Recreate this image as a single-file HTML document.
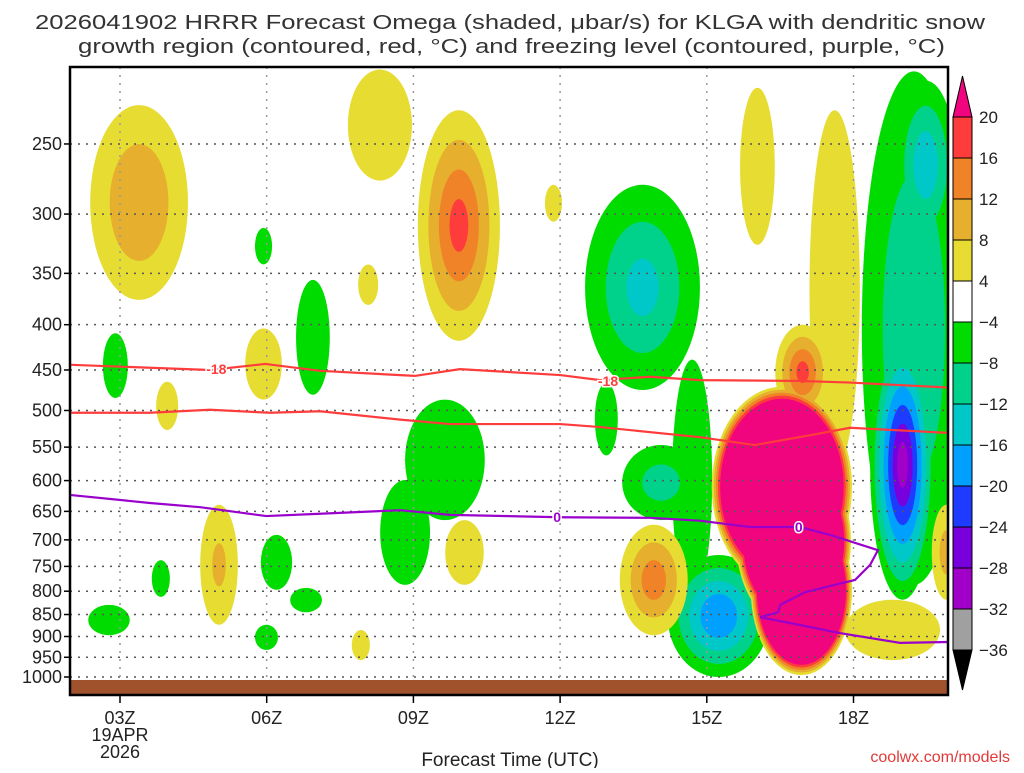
<!DOCTYPE html>
<html><head><meta charset="utf-8"><style>
body{margin:0;background:#fff;width:1024px;height:768px;overflow:hidden;font-family:"Liberation Sans",sans-serif}
svg text{font-family:"Liberation Sans",sans-serif}
</style></head><body>
<svg id="chart" width="1024" height="768" xmlns="http://www.w3.org/2000/svg">
<text x="35" y="29" textLength="950" lengthAdjust="spacingAndGlyphs" font-size="20" fill="#333">2026041902 HRRR Forecast Omega (shaded, μbar/s) for KLGA with dendritic snow</text>
<text x="78" y="53" textLength="867" lengthAdjust="spacingAndGlyphs" font-size="20" fill="#333">growth region (contoured, red, °C) and freezing level (contoured, purple, °C)</text>
<defs><clipPath id="pc"><rect x="70" y="67" width="878" height="628"/></clipPath></defs>
<g id="fills" clip-path="url(#pc)"></g>
<g id="grid"></g>
<rect x="70" y="680" width="878" height="15" fill="#A0522D"/>
<g id="lines" clip-path="url(#pc)"></g>
<rect x="70" y="67" width="878" height="628" fill="none" stroke="#000" stroke-width="2.5"/>
<g id="axes"></g>
<g id="cbar"></g>
<text x="510" y="766" text-anchor="middle" font-size="19" fill="#222">Forecast Time (UTC)</text>
<text x="1010" y="762" text-anchor="end" font-size="16" fill="#e03a3a">coolwx.com/models</text>
</svg>
<script>
// ---- data ----
const pressureTicks=[250,300,350,400,450,500,550,600,650,700,750,800,850,900,950,1000];
const hourTicks=[3,6,9,12,15,18];
const hourTickLabels=["03Z","06Z","09Z","12Z","15Z","18Z"];
const blobH0=[2.39,7.66,9.09,5.76,6.6,7.87,2.65,5.56,3.74,8.83,8.32,12.71,12.51,14.29,13.27,14.2,15.1,15.9,16.4,17.1,18.17,18.34,18.85,4.64,5.88,6.48,5.76,3.65,2.35,9.65,7.74,11.69,13.22,17.83,15.68,19.6,15.6];
const blobH1=[4.39,8.97,10.77,6.11,7.29,8.28,3.16,6.31,4.19,10.46,9.34,13.18,14.86,15.11,14.86,16.29,17.97,17.97,17.52,18.13,20.3,19.67,20.1,5.41,6.52,7.13,6.23,4.02,3.2,10.44,8.11,12.04,14.61,19.77,16.39,20.2,17.95];
const blobP0=[226,206,229,311,356,342,409,404,464,486,599,465,278,438,547,728,470,640,400,229,207,406,212,639,691,793,873,738,829,665,885,278,673,818,216,639,560];
const blobP1=[375,275,417,342,480,380,484,486,526,665,787,562,474,818,665,1000,790,995,512,583,787,818,329,873,797,845,932,812,897,787,957,306,897,957,325,818,880];
const blobPeak=[10,6,18,-6,-6,6,-6,6,6,-7,-7,-6,-14,-6,-11,-19,24,24,18,6,-12,-30,-16,9,-6,-6,-6,-6,-6,6,6,6,14,6,6,10,24];
const blobSharp=[0.6,1,0.9,1,1,1,1,1,1,1,1,1,0.9,1,0.9,0.8,0.15,0.15,0.9,1,0.8,0.9,0.9,0.8,1,1,1,1,1,1,1,1,0.8,1,1,0.8,0.15];
const posLevels=[4,8,12,16,20];
const posColors=["#E6DC32","#E6AF2D","#F08228","#FF3C3C","#F0057F"];
const negLevels=[-4,-8,-12,-16,-20,-24,-28,-32];
const negColors=["#00DC00","#00D28C","#00C8C8","#00A0FF","#1E3CFF","#7800DC","#A000C8","#A0A0A0"];
const cbarLabels=["20","16","12","8","4","\u22124","\u22128","\u221212","\u221216","\u221220","\u221224","\u221228","\u221232","\u221236"];
const cbarColors=["#FF3C3C","#F08228","#E6AF2D","#E6DC32","#FFFFFF","#00DC00","#00D28C","#00C8C8","#00A0FF","#1E3CFF","#7800DC","#A000C8","#A0A0A0"];
const dsgUpperH=[2.0,4.84,5.97,7.09,9.03,9.95,12.0,12.82,13.84,14.86,16.9,17.93,19.93];
const dsgUpperP=[444,450,443,451,457,449,456,462,458,462,463,465,471];
const dsgLowerH=[2.0,3.61,4.84,6.07,7.09,8.73,9.75,12.0,12.82,14.86,15.98,17.13,17.93,19.93];
const dsgLowerP=[503,503,499,503,501,512,518,518,522,536,547,533,523,530];
const frzH=[2.0,3.61,4.64,5.99,7.09,8.73,9.75,12.0,13.84,14.86,15.88,16.9,17.52,18.5,18.34,18.03,17.01,16.5,16.46,16.09,16.7,17.72,18.95,19.93];
const frzP=[623,636,643,658,654,648,656,660,661,666,677,677,691,719,747,777,802,829,845,856,869,892,915,913];
// ---- scales ----
const NS="http://www.w3.org/2000/svg";
function xs(h){return 120+(h-3)*48.9;}
function ys(p){return 677-384.5*Math.log(1000/p);}
function mk(tag,attrs,parent){const e=document.createElementNS(NS,tag);for(const k in attrs)e.setAttribute(k,attrs[k]);parent.appendChild(e);return e;}
const fills=document.getElementById('fills'),grid=document.getElementById('grid'),axes=document.getElementById('axes'),lines=document.getElementById('lines'),cbar=document.getElementById('cbar');
function drawLevels(levels,colors,sign){
  levels.forEach((t,li)=>{
    for(let i=0;i<blobPeak.length;i++){
      const pk=blobPeak[i];
      if(Math.sign(pk)!==sign||Math.abs(pk)<=Math.abs(t))continue;
      const f=1-blobSharp[i]*(Math.abs(t)-4)/(Math.abs(pk)-4);
      const x0=xs(blobH0[i]),x1=xs(blobH1[i]),y0=ys(blobP0[i]),y1=ys(blobP1[i]);
      const e=mk('ellipse',{cx:(x0+x1)/2,cy:(y0+y1)/2,rx:(x1-x0)/2*f,ry:(y1-y0)/2*f,fill:colors[li]},fills);
      
      
    }
  });
}
drawLevels(negLevels,negColors,-1);
drawLevels(posLevels,posColors,1);
// grid + y axis
pressureTicks.forEach(p=>{
  const y=ys(p);
  const g=mk('line',{x1:70,x2:948,y1:y,y2:y,stroke:'#555','stroke-width':1.5,'stroke-dasharray':'2 6'},grid);
  
  
  mk('line',{x1:64,x2:70,y1:y,y2:y,stroke:'#000','stroke-width':1.5},axes);
  const t=mk('text',{x:62,y:y+6,'text-anchor':'end','font-size':18,fill:'#222'},axes);
  t.textContent=p;
  
  
});
hourTicks.forEach((h,i)=>{
  const x=xs(h);
  const g=mk('line',{x1:x,x2:x,y1:67,y2:695,stroke:'#999','stroke-width':1.5,'stroke-dasharray':'2 6'},grid);
  
  
  mk('line',{x1:x,x2:x,y1:695,y2:703,stroke:'#000','stroke-width':1.5},axes);
  const t=mk('text',{x:x,y:724,'text-anchor':'middle','font-size':18,fill:'#222'},axes);
  t.textContent=hourTickLabels[i];
  
  
});
const d1=mk('text',{x:xs(3),y:741,'text-anchor':'middle','font-size':18,fill:'#222'},axes);d1.textContent='19APR';


const d2=mk('text',{x:xs(3),y:758,'text-anchor':'middle','font-size':18,fill:'#222'},axes);d2.textContent='2026';


// contour lines
function poly(H,P,color,name){
  const pts=H.map((h,i)=>xs(h)+','+ys(P[i])).join(' ');
  const l=mk('polyline',{points:pts,fill:'none',stroke:color,'stroke-width':2.2},lines);
  
  
}
poly(dsgUpperH,dsgUpperP,'#FF3C3C','dgz-minus18-contour');
poly(dsgLowerH,dsgLowerP,'#FF3C3C','dgz-minus12-contour');
poly(frzH,frzP,'#9A00CC','freezing-level-contour');
function lab(h,p,txt,color,name){
  const x=xs(h),y=ys(p);
  const t=mk('text',{x:x,y:y+5,'text-anchor':'middle','font-size':14,'font-weight':'bold',fill:color,stroke:'#fff','stroke-width':3,'paint-order':'stroke'},lines);
  t.textContent=txt;
  
  
}
lab(4.97,449,'-18','#FF3C3C','contour-label');
lab(12.98,463,'-18','#FF3C3C','contour-label');
lab(11.94,660,'0','#9A00CC','contour-label');
lab(16.88,677,'0','#9A00CC','contour-label');
// colorbar
const cbX=953,cbW=19,cbTop=117,cbStep=41;
cbarColors.forEach((c,i)=>{
  const r=mk('rect',{x:cbX,y:cbTop+i*cbStep,width:cbW,height:cbStep,fill:c,stroke:'#000','stroke-width':1},cbar);
  
  
});
const ta=mk('polygon',{points:`${cbX},${cbTop} ${cbX+cbW},${cbTop} ${cbX+cbW/2},76`,fill:'#F0057F',stroke:'#000','stroke-width':1},cbar);


const cbBot=cbTop+13*cbStep;
const ba=mk('polygon',{points:`${cbX},${cbBot} ${cbX+cbW},${cbBot} ${cbX+cbW/2},690`,fill:'#000',stroke:'#000','stroke-width':1},cbar);


cbarLabels.forEach((s,i)=>{
  const t=mk('text',{x:979,y:cbTop+i*cbStep+6,'font-size':17,fill:'#222'},cbar);
  t.textContent=s;
  
  
});
</script>
</body></html>
